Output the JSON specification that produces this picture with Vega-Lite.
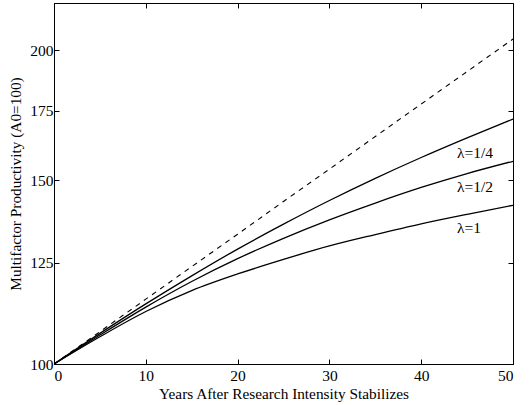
{
  "$schema": "https://vega.github.io/schema/vega-lite/v6.json",
  "autosize": "none",
  "width": 459,
  "height": 361,
  "padding": {"left": 54, "top": 3, "right": 16, "bottom": 41},
  "background": "white",
  "config": {
    "font": "Liberation Serif",
    "view": {"stroke": "black", "strokeWidth": 1},
    "axis": {
      "domainColor": "black",
      "tickColor": "black",
      "labelColor": "black",
      "titleColor": "black",
      "grid": false,
      "labelFont": "Liberation Serif",
      "titleFont": "Liberation Serif",
      "labelFontSize": 15.5,
      "titleFontSize": 15.3,
      "titleFontWeight": "normal",
      "tickSize": -5
    }
  },
  "datasets": {
    "curves": [
      {"year": 0, "value": 100, "series": "base"},
      {"year": 5, "value": 107.4, "series": "base"},
      {"year": 10, "value": 115.4, "series": "base"},
      {"year": 15, "value": 124.0, "series": "base"},
      {"year": 20, "value": 133.2, "series": "base"},
      {"year": 25, "value": 143.2, "series": "base"},
      {"year": 30, "value": 153.8, "series": "base"},
      {"year": 35, "value": 165.3, "series": "base"},
      {"year": 40, "value": 177.6, "series": "base"},
      {"year": 45, "value": 190.8, "series": "base"},
      {"year": 50, "value": 205.0, "series": "base"},
      {"year": 0, "value": 100, "series": "l14"},
      {"year": 5, "value": 107.0, "series": "l14"},
      {"year": 10, "value": 114.2, "series": "l14"},
      {"year": 15, "value": 121.5, "series": "l14"},
      {"year": 20, "value": 128.9, "series": "l14"},
      {"year": 25, "value": 136.2, "series": "l14"},
      {"year": 30, "value": 143.5, "series": "l14"},
      {"year": 35, "value": 150.7, "series": "l14"},
      {"year": 40, "value": 157.8, "series": "l14"},
      {"year": 45, "value": 164.8, "series": "l14"},
      {"year": 50, "value": 171.8, "series": "l14"},
      {"year": 0, "value": 100, "series": "l12"},
      {"year": 5, "value": 106.6, "series": "l12"},
      {"year": 10, "value": 113.4, "series": "l12"},
      {"year": 15, "value": 120.0, "series": "l12"},
      {"year": 20, "value": 126.2, "series": "l12"},
      {"year": 25, "value": 132.0, "series": "l12"},
      {"year": 30, "value": 137.5, "series": "l12"},
      {"year": 35, "value": 142.7, "series": "l12"},
      {"year": 40, "value": 147.7, "series": "l12"},
      {"year": 45, "value": 152.3, "series": "l12"},
      {"year": 50, "value": 156.5, "series": "l12"},
      {"year": 0, "value": 100, "series": "l1"},
      {"year": 5, "value": 106.2, "series": "l1"},
      {"year": 10, "value": 112.3, "series": "l1"},
      {"year": 15, "value": 117.6, "series": "l1"},
      {"year": 20, "value": 122.0, "series": "l1"},
      {"year": 25, "value": 126.0, "series": "l1"},
      {"year": 30, "value": 129.8, "series": "l1"},
      {"year": 35, "value": 133.1, "series": "l1"},
      {"year": 40, "value": 136.3, "series": "l1"},
      {"year": 45, "value": 139.2, "series": "l1"},
      {"year": 50, "value": 142.0, "series": "l1"}
    ],
    "labels": [
      {"year": 43.9, "value": 159.3, "label": "λ=1/4"},
      {"year": 43.9, "value": 147.8, "label": "λ=1/2"},
      {"year": 43.9, "value": 135.0, "label": "λ=1"}
    ]
  },
  "layer": [
    {
      "data": {"name": "curves"},
      "transform": [{"filter": "datum.series === 'base'"}],
      "mark": {"type": "line", "color": "black", "strokeWidth": 1.1, "strokeDash": [5, 5], "clip": true},
      "encoding": {
        "x": {"field": "year", "type": "quantitative",
              "scale": {"domain": [0, 50], "nice": false},
              "axis": {"orient": "bottom", "values": [0, 10, 20, 30, 40, 50], "title": "Years After Research Intensity Stabilizes", "labelPadding": 9, "titlePadding": 3}},
        "y": {"field": "value", "type": "quantitative",
              "scale": {"type": "log", "domain": [100, 222], "nice": false, "zero": false},
              "axis": {"orient": "left", "values": [100, 125, 150, 175, 200], "title": "Multifactor Productivity (A0=100)", "labelPadding": 6, "titlePadding": 6}}
      }
    },
    {
      "data": {"name": "curves"},
      "transform": [{"filter": "datum.series !== 'base'"}],
      "mark": {"type": "line", "color": "black", "strokeWidth": 1.3, "interpolate": "monotone", "clip": true},
      "encoding": {
        "x": {"field": "year", "type": "quantitative", "axis": null},
        "y": {"field": "value", "type": "quantitative", "axis": null},
        "detail": {"field": "series"}
      }
    },
    {
      "data": {"name": "labels"},
      "mark": {"type": "text", "align": "left", "baseline": "middle", "fontSize": 15.5, "font": "Liberation Serif", "color": "black"},
      "encoding": {
        "x": {"field": "year", "type": "quantitative",
              "axis": {"orient": "top", "values": [0, 10, 20, 30, 40, 50], "labels": false, "title": null, "domain": false}},
        "y": {"field": "value", "type": "quantitative",
              "axis": {"orient": "right", "values": [100, 125, 150, 175, 200], "labels": false, "title": null, "domain": false}},
        "text": {"field": "label"}
      }
    }
  ],
  "resolve": {"axis": {"x": "independent", "y": "independent"}}
}
